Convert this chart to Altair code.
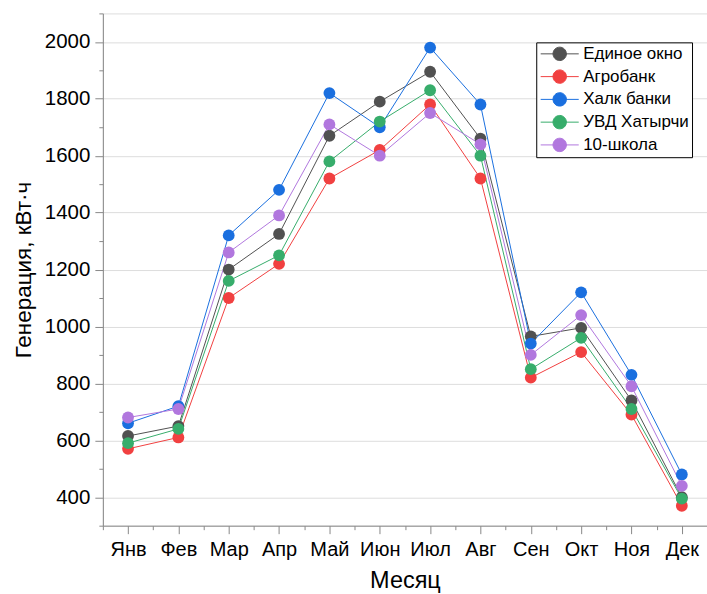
import json
import altair as alt
import pandas as pd

months = ["Янв", "Фев", "Мар", "Апр", "Май", "Июн", "Июл", "Авг", "Сен", "Окт", "Ноя", "Дек"]
series = ["Единое окно", "Агробанк", "Халк банки", "УВД Хатырчи", "10-школа"]
colors = ["#515151", "#F14040", "#1A6FDF", "#37AD6B", "#B177DE"]

edinoe_okno = [615, 650, 1200, 1325, 1670, 1790, 1895, 1660, 965, 995, 740, 400]
agrobank = [570, 610, 1100, 1220, 1520, 1620, 1780, 1520, 820, 910, 690, 370]
halk_banki = [660, 720, 1320, 1480, 1820, 1700, 1980, 1780, 940, 1120, 830, 480]
uvd_hatyrchi = [590, 640, 1160, 1250, 1580, 1720, 1830, 1600, 850, 960, 710, 395]
shkola_10 = [680, 710, 1260, 1390, 1710, 1600, 1750, 1640, 900, 1040, 790, 440]

values = [edinoe_okno, agrobank, halk_banki, uvd_hatyrchi, shkola_10]
rows = []
for s_i, (name, vals) in enumerate(zip(series, values)):
    for m_i, v in enumerate(vals):
        rows.append({"idx": m_i, "month": months[m_i], "series": name, "order": s_i, "value": v})
df = pd.DataFrame(rows)

FONT = "Liberation Sans"
month_arr = json.dumps(months, ensure_ascii=False)

x_vals = [i * 0.5 - 0.5 for i in range(0, 25)]
y_vals = list(range(300, 2101, 100))

x_axis = alt.Axis(
    values=x_vals,
    labelExpr=f"datum.value % 1 === 0 ? {month_arr}[datum.value] : ''",
    tickSize={"condition": {"test": "datum.value % 1 === 0", "value": 8}, "value": 4},
    labelOverlap=False,
    labelFlush=False,
    grid=False,
    title="Месяц",
    titleFontSize=23.5,
    titleFontWeight="normal",
    titlePadding=9,
    labelFontSize=20,
    labelPadding=6,
)
y_axis = alt.Axis(
    values=y_vals,
    labelExpr="datum.value % 200 === 0 && datum.value >= 400 && datum.value <= 2000 ? datum.label : ''",
    format="d",
    tickSize={"condition": {"test": "datum.value % 200 === 0", "value": 8}, "value": 4},
    gridOpacity={"condition": {"test": "datum.value % 200 === 0 && datum.value <= 2000", "value": 1}, "value": 0},
    labelOverlap=False,
    labelFlush=False,
    grid=True,
    title="Генерация, кВт·ч",
    titleFontSize=22.5,
    titleFontWeight="normal",
    titlePadding=9,
    labelFontSize=20.5,
    labelPadding=5,
)

sym_path = "M-2.84,0L2.84,0M-1,0A1,1,0,1,1,1,0A1,1,0,1,1,-1,0Z"
legend = alt.Legend(
    title=None,
    orient="none",
    legendX=434,
    legendY=29,
    symbolType=sym_path,
    symbolSize=180,
    symbolStrokeWidth=1,
    symbolOffset=12,
    symbolOpacity=1,
    labelOffset=15,
    labelFontSize=17,
    labelFont=FONT,
    rowPadding=3.8,
    padding=3,
    strokeColor="black",
    fillColor="white",
    cornerRadius=0,
)

color = alt.Color("series:N", scale=alt.Scale(domain=series, range=colors), legend=legend,
                  sort=series)
x = alt.X("idx:Q", scale=alt.Scale(domain=[-0.5, 11.5], nice=False, zero=False), axis=x_axis)
y = alt.Y("value:Q", scale=alt.Scale(domain=[300, 2100], nice=False, zero=False), axis=y_axis)

lines = alt.Chart(df).mark_line(strokeWidth=1).encode(
    x=x, y=y, color=color, order="idx:Q", detail="series:N"
)
points = alt.Chart(df).mark_circle(size=140, opacity=1).encode(
    x=x, y=y, color=color, order="order:Q"
)

chart = alt.layer(lines, points).properties(
    width=605,
    height=513,
    autosize=alt.AutoSizeParams(type="none"),
    padding={"left": 103, "top": 13, "right": 0, "bottom": 68},
).configure_view(
    stroke="black", strokeWidth=1.5
).configure_axis(
    labelFont=FONT, titleFont=FONT, labelColor="black", titleColor="black",
    domainColor="black", domainWidth=1.5, tickColor="black", tickWidth=1.5,
    gridColor="#b4b4b4", gridWidth=1.2,
).configure(background="white")

chart.save("out.html", embed_options={"renderer": "svg", "actions": False})
